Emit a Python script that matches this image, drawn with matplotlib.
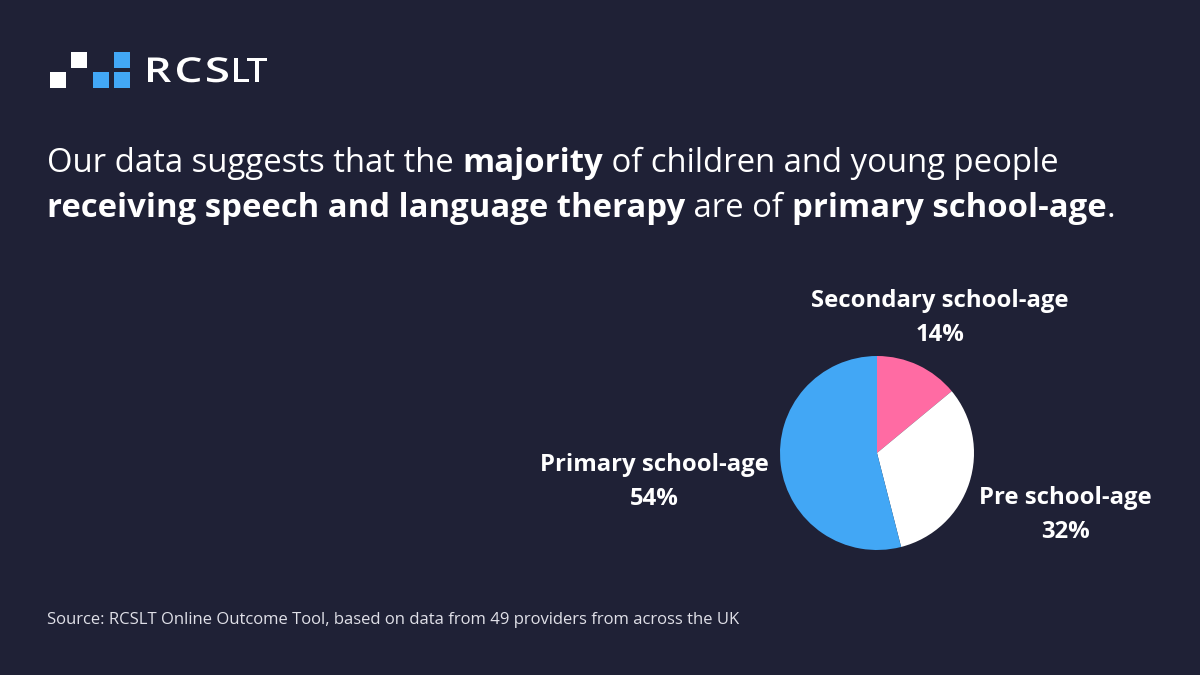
import matplotlib
matplotlib.use("Agg")
import matplotlib.pyplot as plt
from matplotlib.patches import Rectangle, PathPatch
from matplotlib.textpath import TextPath
from matplotlib.font_manager import FontProperties
from matplotlib.transforms import Affine2D

categories = ["Secondary school-age", "Pre school-age", "Primary school-age"]
shares = [14, 32, 54]
colors = ["#ff6ba3", "#ffffff", "#42a7f5"]

BG = "#1f2136"
W, H = 1200, 675
fig = plt.figure(figsize=(12, 6.75), dpi=100, facecolor=BG)
FONT = "Open Sans"

def px(x, y):
    return x / W, 1 - y / H

# logo
logo = fig.add_axes([0, 0, 1, 1], facecolor="none")
logo.set_xlim(0, W); logo.set_ylim(H, 0); logo.axis("off")
for (x0, y0, c) in [(50, 72, "white"), (71, 52, "white"), (93, 72, "#42a7f5"),
                    (114, 72, "#42a7f5"), (114, 52, "#42a7f5")]:
    logo.add_patch(Rectangle((x0, y0), 16, 16, color=c, lw=0))
prop = FontProperties(family=FONT, weight="semibold")
cap = TextPath((0, 0), "H", size=1, prop=prop).get_extents().height
sy = 24.5 / cap
for ch, (a, b) in zip("RCSLT", [(148, 171), (177, 201), (207, 228), (234, 249), (247, 267)]):
    p = TextPath((0, 0), ch, size=1, prop=prop)
    e = p.get_extents()
    sx = (b - a) / e.width
    tr = Affine2D().translate(-e.x0, 0).scale(sx, -sy).translate(a, 82)
    logo.add_patch(PathPatch(tr.transform_path(p), color="white", lw=0))

# title with mixed weights
fig.canvas.draw()
renderer = fig.canvas.get_renderer()
lines = [
    [("Our data suggests that the ", "normal"), ("majority", "bold"),
     (" of children and young people", "normal")],
    [("receiving speech and language therapy", "bold"), (" are of ", "normal"),
     ("primary school-age", "bold"), (".", "normal")],
]
ys = [172, 217]
for parts, yb in zip(lines, ys):
    x = 47
    for txt, wt in parts:
        t = fig.text(*px(x, yb), txt, color="white", fontsize=23.7, family=FONT,
                     weight=wt, va="baseline", ha="left")
        bb = t.get_window_extent(renderer)
        x += bb.width

# pie
ax = fig.add_axes([780 / W, (H - 550) / H, 194 / W, 194 / H])
ax.pie(shares, colors=colors, startangle=90, counterclock=False,
       wedgeprops=dict(linewidth=0))
ax.set_xlim(-1, 1); ax.set_ylim(-1, 1)
ax.set_aspect("equal")

label_pos = {"Secondary school-age": (940, 318), "Pre school-age": (1065, 515),
             "Primary school-age": (654, 482)}
for cat, s in zip(categories, shares):
    lx, ly = label_pos[cat]
    fig.text(*px(lx, ly), f"{cat}\n{s}%", color="white", fontsize=17.2,
             family=FONT, weight="bold", ha="center", va="center",
             linespacing=1.55)

fig.text(*px(47, 620), "Source: RCSLT Online Outcome Tool, based on data from 49 providers from across the UK",
         color="#e0e0e8", fontsize=12, family=FONT, ha="left", va="center")

fig.savefig("out.png", dpi=100, facecolor=BG)
